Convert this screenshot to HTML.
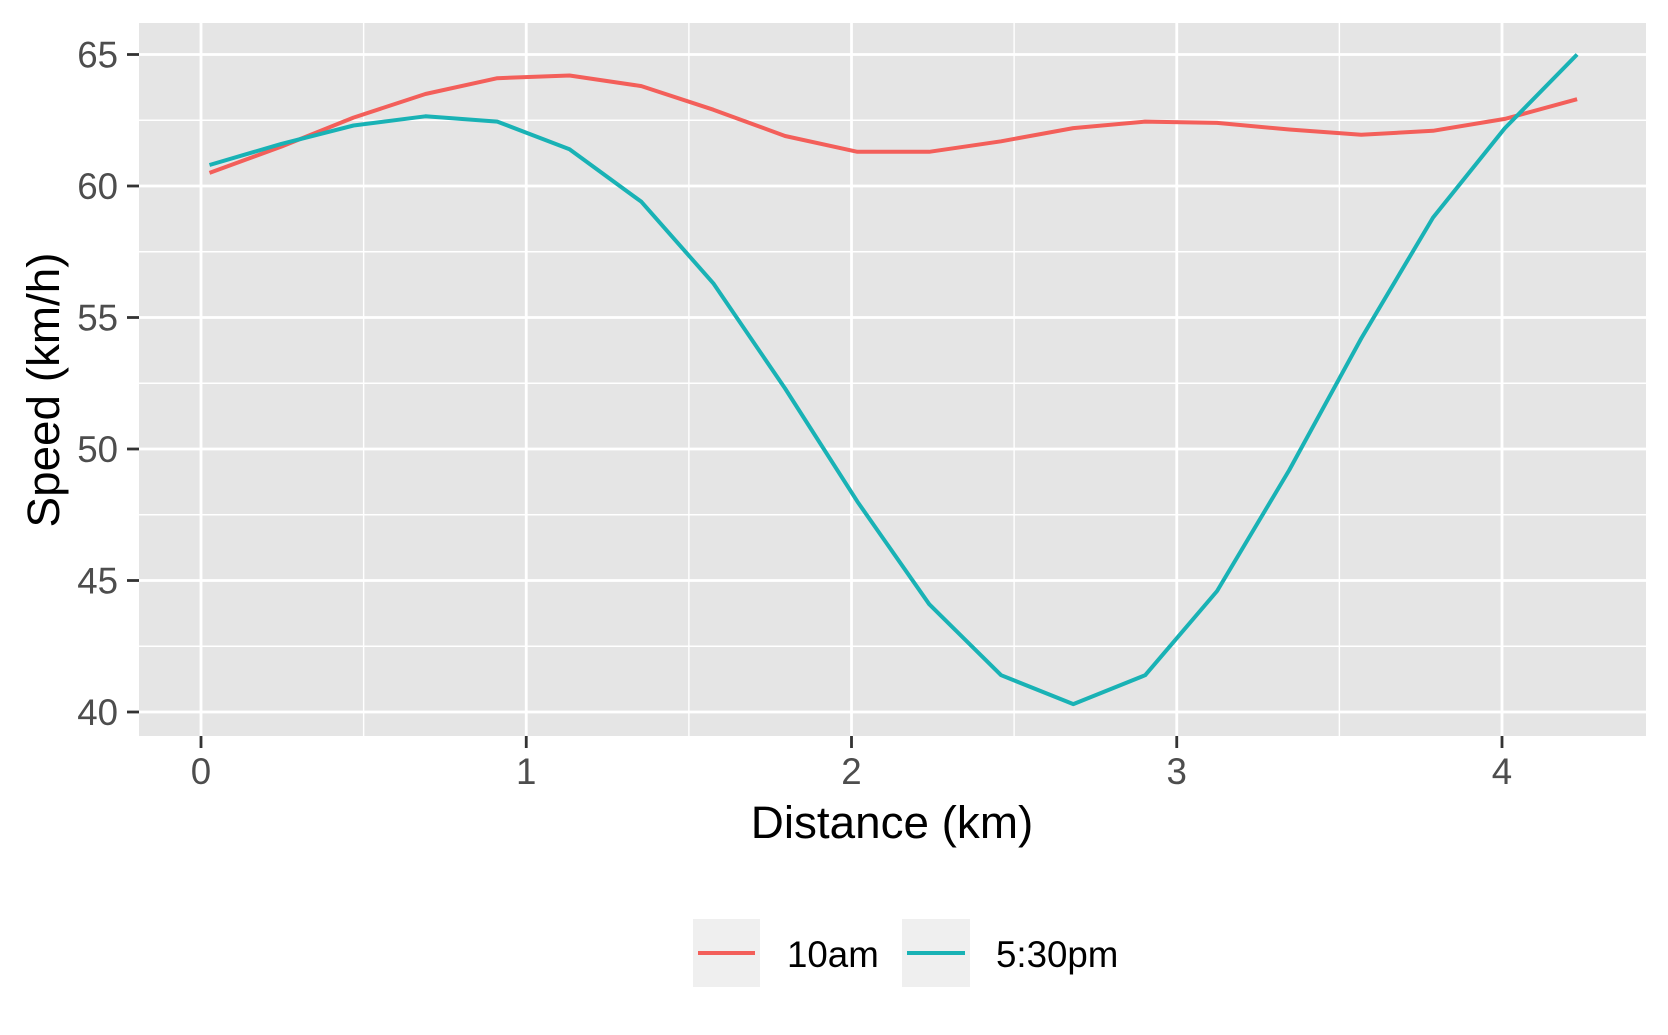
<!DOCTYPE html>
<html><head><meta charset="utf-8"><style>
html,body{margin:0;padding:0;background:#fff;}
svg{display:block;font-family:"Liberation Sans",Arial,sans-serif;}
</style></head><body>
<svg id="chart" width="1668" height="1035" viewBox="0 0 1668 1035">
<rect x="0" y="0" width="1668" height="1035" fill="#fff"/>
<rect x="139" y="23" width="1507" height="713" fill="#E5E5E5"/>
<g id="grid"></g>
<g id="series"></g>
<g id="axes"></g>
<text x="892" y="838" font-size="45.8" text-anchor="middle" fill="#000">Distance (km)</text>
<text transform="translate(59,390) rotate(-90)" font-size="45.8" text-anchor="middle" fill="#000">Speed (km/h)</text>
<g>
<g>
<rect x="693" y="919" width="67" height="68" fill="#EFEFEF"/>
<line x1="698" y1="953" x2="755" y2="953" stroke="#F35F5A" stroke-width="4"/>
<text x="787" y="967" font-size="36.7" fill="#000">10am</text>
</g>
<g>
<rect x="902" y="919" width="68" height="68" fill="#EFEFEF"/>
<line x1="907" y1="953" x2="965" y2="953" stroke="#19B2B5" stroke-width="4"/>
<text x="996" y="967" font-size="36.7" fill="#000">5:30pm</text>
</g>
</g>
</svg>
<script>
const distances = [0.026,0.247,0.469,0.690,0.911,1.133,1.354,1.575,1.796,2.018,2.239,2.460,2.682,2.903,3.124,3.346,3.567,3.788,4.009,4.231];
const speed10am = [60.5,61.5,62.6,63.5,64.1,64.2,63.8,62.9,61.9,61.3,61.3,61.7,62.2,62.45,62.4,62.15,61.95,62.1,62.55,63.3];
const speed530pm = [60.8,61.6,62.3,62.65,62.45,61.4,59.4,56.3,52.3,48.0,44.1,41.4,40.3,41.4,44.6,49.2,54.2,58.8,62.2,65.0];
const xTicks = [0,1,2,3,4];
const xMinor = [0.5,1.5,2.5,3.5];
const yTicks = [40,45,50,55,60,65];
const yMinor = [42.5,47.5,52.5,57.5,62.5];

const NS='http://www.w3.org/2000/svg';
const PL=139,PR=1646,PT=23,PB=736;
function xs(v){return 201+(v-0)*325.25;}
function ys(v){return 54.5+(65-v)*26.3;}
function mk(tag,attrs,parent){const e=document.createElementNS(NS,tag);for(const k in attrs)e.setAttribute(k,attrs[k]);parent.appendChild(e);return e;}
const grid=document.getElementById('grid'),series=document.getElementById('series'),axes=document.getElementById('axes');

yMinor.forEach(v=>{const l=mk('line',{x1:PL,x2:PR,y1:ys(v),y2:ys(v),stroke:'#fff','stroke-width':1.4},grid);

});
xMinor.forEach(v=>{const l=mk('line',{x1:xs(v),x2:xs(v),y1:PT,y2:PB,stroke:'#fff','stroke-width':1.4},grid);

});
yTicks.forEach(v=>{const l=mk('line',{x1:PL,x2:PR,y1:ys(v),y2:ys(v),stroke:'#fff','stroke-width':2.8},grid);


const t=mk('line',{x1:127,x2:PL,y1:ys(v),y2:ys(v),stroke:'#333','stroke-width':2.8},axes);


const tx=mk('text',{x:118,y:ys(v)+13,'font-size':36.7,'text-anchor':'end',fill:'#4D4D4D'},axes);
tx.textContent=v;

});
xTicks.forEach(v=>{const l=mk('line',{x1:xs(v),x2:xs(v),y1:PT,y2:PB,stroke:'#fff','stroke-width':2.8},grid);


const t=mk('line',{x1:xs(v),x2:xs(v),y1:PB,y2:PB+12,stroke:'#333','stroke-width':2.8},axes);


const tx=mk('text',{x:xs(v),y:784,'font-size':36.7,'text-anchor':'middle',fill:'#4D4D4D'},axes);
tx.textContent=v;

});

function drawLine(vals,color,name){
  const pts=distances.map((d,i)=>xs(d).toFixed(1)+','+ys(vals[i]).toFixed(1)).join(' ');
  const p=mk('polyline',{points:pts,fill:'none',stroke:color,'stroke-width':4,'stroke-linejoin':'round'},series);
  
  
}
drawLine(speed10am,'#F35F5A','line-10am');
drawLine(speed530pm,'#19B2B5','line-530pm');
</script>
</body></html>
